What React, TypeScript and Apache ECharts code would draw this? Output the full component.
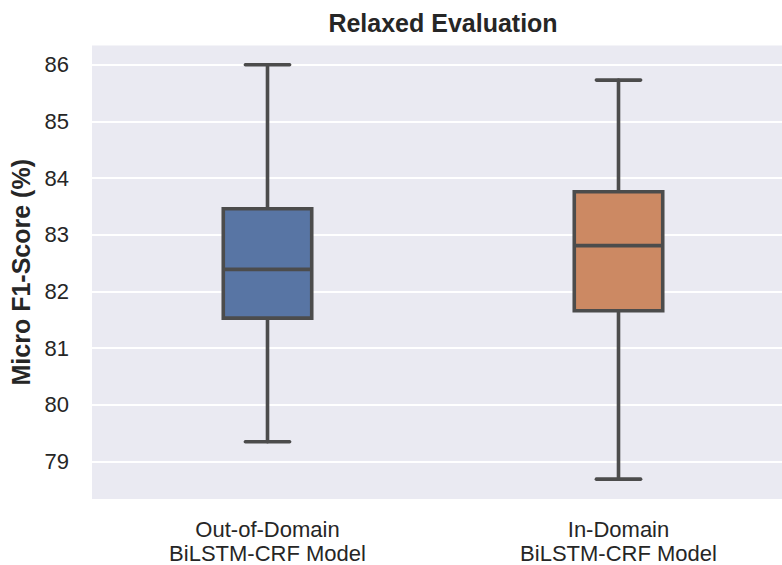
import React, { useEffect, useRef } from "react";
import * as echarts from "echarts";

// Model groups along the x axis
const categories = ["Out-of-Domain\nBiLSTM-CRF Model", "In-Domain\nBiLSTM-CRF Model"];

// Five-number summaries per group (lower whisker, Q1, median, Q3, upper whisker)
const lowerWhisker = [79.35, 78.69];
const q1 = [81.53, 81.66];
const median = [82.39, 82.81];
const q3 = [83.46, 83.76];
const upperWhisker = [86.0, 85.73];

const boxColors = ["#5875a4", "#cc8963"];
const yTicks = [79, 80, 81, 82, 83, 84, 85, 86];

const LINE = "#4c4c4c";
const TEXT = "#262626";
const FONT = "'Liberation Sans', Arial, Helvetica, sans-serif";

export default function App() {
  const ref = useRef<HTMLDivElement>(null);

  useEffect(() => {
    if (!ref.current) return;
    const chart = echarts.init(ref.current, undefined, { renderer: "svg" });

    const data = categories.map((_, i) => [
      i,
      lowerWhisker[i],
      q1[i],
      median[i],
      q3[i],
      upperWhisker[i],
    ]);

    const renderItem = (params: any, api: any) => {
      const idx = api.value(0);
      const catW = api.size([1, 0])[0];
      const boxHalf = catW * 0.126;
      const capHalf = catW * 0.063;
      const lo = api.coord([idx, api.value(1)]);
      const b1 = api.coord([idx, api.value(2)]);
      const md = api.coord([idx, api.value(3)]);
      const b3 = api.coord([idx, api.value(4)]);
      const hi = api.coord([idx, api.value(5)]);
      const cx = lo[0];
      const lw = 3.6;
      const lineStyle = { stroke: LINE, lineWidth: lw, lineCap: "round" };
      return {
        type: "group",
        children: [
          { type: "line", shape: { x1: cx, y1: b1[1], x2: cx, y2: lo[1] }, style: lineStyle },
          { type: "line", shape: { x1: cx, y1: b3[1], x2: cx, y2: hi[1] }, style: lineStyle },
          { type: "line", shape: { x1: cx - capHalf, y1: lo[1], x2: cx + capHalf, y2: lo[1] }, style: lineStyle },
          { type: "line", shape: { x1: cx - capHalf, y1: hi[1], x2: cx + capHalf, y2: hi[1] }, style: lineStyle },
          {
            type: "rect",
            shape: { x: cx - boxHalf, y: b3[1], width: boxHalf * 2, height: b1[1] - b3[1] },
            style: { fill: boxColors[idx], stroke: LINE, lineWidth: lw },
          },
          {
            type: "line",
            shape: { x1: cx - boxHalf, y1: md[1], x2: cx + boxHalf, y2: md[1] },
            style: { stroke: LINE, lineWidth: lw },
          },
        ],
      };
    };

    chart.setOption({
      animation: false,
      backgroundColor: "#ffffff",
      textStyle: { fontFamily: FONT },
      graphic: [
        {
          type: "text",
          x: 443,
          y: 23,
          style: {
            text: "Relaxed Evaluation",
            fill: TEXT,
            font: `bold 25px ${FONT}`,
            textAlign: "center",
            textVerticalAlign: "middle",
          },
        },
      ],
      // The axes area runs past the right edge of the visible frame
      grid: {
        left: 92,
        top: 45.5,
        width: 702,
        height: 454.5,
        show: true,
        backgroundColor: "#eaeaf2",
        borderWidth: 0,
      },
      xAxis: {
        type: "category",
        data: categories,
        boundaryGap: true,
        axisLine: { show: false },
        axisTick: { show: false },
        splitLine: { show: false },
        axisLabel: {
          margin: 18,
          color: TEXT,
          fontSize: 22,
          lineHeight: 24,
          fontFamily: FONT,
        },
      },
      yAxis: {
        type: "value",
        min: 78.34,
        max: 86.34,
        name: "Micro F1-Score (%)",
        nameLocation: "middle",
        nameGap: 56,
        nameRotate: 90,
        nameTextStyle: {
          color: TEXT,
          fontSize: 25,
          fontWeight: "bold",
          fontFamily: FONT,
        },
        axisLine: { show: false },
        axisTick: { show: false, customValues: yTicks },
        axisLabel: {
          customValues: yTicks,
          margin: 23,
          color: TEXT,
          fontSize: 22,
          fontFamily: FONT,
        },
        splitLine: { show: true, lineStyle: { color: "#ffffff", width: 2 } },
      },
      series: [
        {
          type: "custom",
          renderItem,
          data,
          encode: { x: 0, y: [1, 2, 3, 4, 5] },
          clip: false,
          z: 3,
        },
      ],
    });

    return () => chart.dispose();
  }, []);

  return (
    <div
      style={{ position: "absolute", left: 0, top: 0, width: 782, height: 565, overflow: "hidden" }}
    >
      <div ref={ref} style={{ width: 800, height: 565 }} />
    </div>
  );
}
